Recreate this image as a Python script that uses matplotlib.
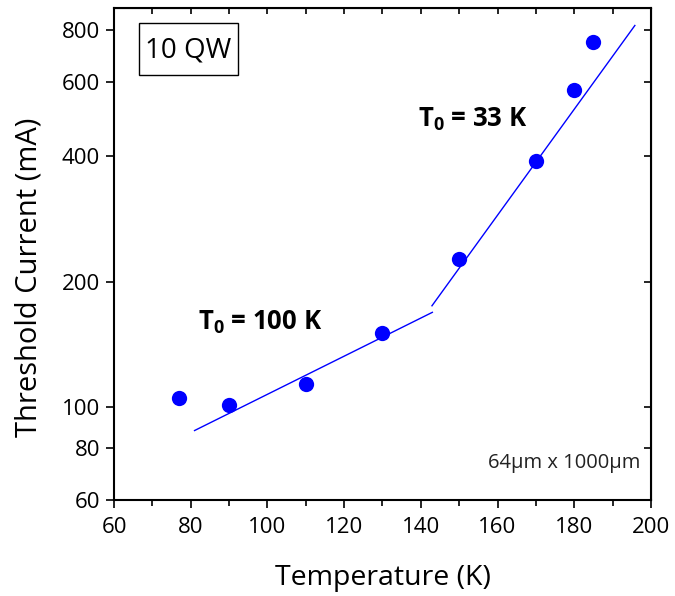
import matplotlib
matplotlib.use("Agg")
import matplotlib.pyplot as plt
from matplotlib.patches import Rectangle
from matplotlib.ticker import FixedLocator, NullLocator, MultipleLocator

plt.rcParams['font.family'] = ['Open Sans', 'DejaVu Sans']
plt.rcParams['mathtext.fontset'] = 'custom'
plt.rcParams['mathtext.bf'] = 'Open Sans:bold'
plt.rcParams['mathtext.rm'] = 'Open Sans'

# Measured threshold current vs temperature
temperature = [77, 90, 110, 130, 150, 170, 180, 185]
threshold_ma = [105, 101.5, 114, 151, 226, 389, 574, 748]

# Fitted T0 lines (endpoints)
fit_low_t = [81, 143]
fit_low_i = [88.0, 168.8]
fit_high_t = [142.9, 195.8]
fit_high_i = [175, 820]

y_ticks = [60, 80, 100, 200, 400, 600, 800]
x_ticks = [60, 80, 100, 120, 140, 160, 180, 200]

fig = plt.figure(figsize=(6.75, 5.96), dpi=100)
ax = fig.add_axes([0.1689, 0.161, 0.7955, 0.8256])

ax.plot(fit_low_t, fit_low_i, color='#0000ff', lw=1.0)
ax.plot(fit_high_t, fit_high_i, color='#0000ff', lw=1.0)
ax.plot(temperature, threshold_ma, 'o', color='#0000ff', ms=11, mec='none')

ax.set_yscale('log')
ax.set_xlim(60, 200)
ax.set_ylim(60, 903)
ax.yaxis.set_major_locator(FixedLocator(y_ticks))
ax.yaxis.set_minor_locator(NullLocator())
ax.set_yticklabels([str(v) for v in y_ticks])
ax.xaxis.set_major_locator(FixedLocator(x_ticks))
ax.xaxis.set_minor_locator(MultipleLocator(10))

ax.tick_params(axis='both', which='major', labelsize=16, length=6, width=1.2,
               direction='out', colors='black', pad=4)
ax.tick_params(axis='x', which='major', pad=6)
ax.tick_params(axis='x', which='minor', length=4, width=1.2, direction='out')
for s in ax.spines.values():
    s.set_linewidth(1.5)

# Inward ticks on top and right edges
axt = ax.secondary_xaxis('top')
axt.set_xticks(list(range(60, 201, 10)))
axt.tick_params(direction='in', length=4, width=1.2, labeltop=False)
axr = ax.secondary_yaxis('right')
axr.set_yticks(y_ticks)
axr.yaxis.set_minor_locator(NullLocator())
axr.tick_params(direction='in', length=5, width=1.2, labelright=False)

ax.set_xlabel('Temperature (K)', fontsize=20.5)
ax.xaxis.set_label_coords(0.5, -0.130, transform=ax.transAxes)
ax.set_ylabel('Threshold Current (mA)', fontsize=21)
ax.yaxis.set_label_coords(-0.132, 0.453, transform=ax.transAxes)

# Sample label in a framed box
ax.add_patch(Rectangle((0.0466, 0.8638), 0.1843, 0.1057, transform=ax.transAxes,
                       fc='white', ec='black', lw=1, zorder=3))
ax.text(0.1387, 0.914, '10 QW', transform=ax.transAxes, fontsize=20,
        va='center', ha='center', zorder=4)
ax.text(98, 160, r'T$_\mathbf{0}$ = 100 K', fontsize=18.5, fontweight='bold', ha='center', va='center')
ax.text(153.6, 488, r'T$_\mathbf{0}$ = 33 K', fontsize=18.5, fontweight='bold', ha='center', va='center')
ax.text(0.981, 0.075, '64µm x 1000µm', transform=ax.transAxes, fontsize=14.5,
        ha='right', va='center', color='#222222')

fig.savefig('out.png', dpi=100)
